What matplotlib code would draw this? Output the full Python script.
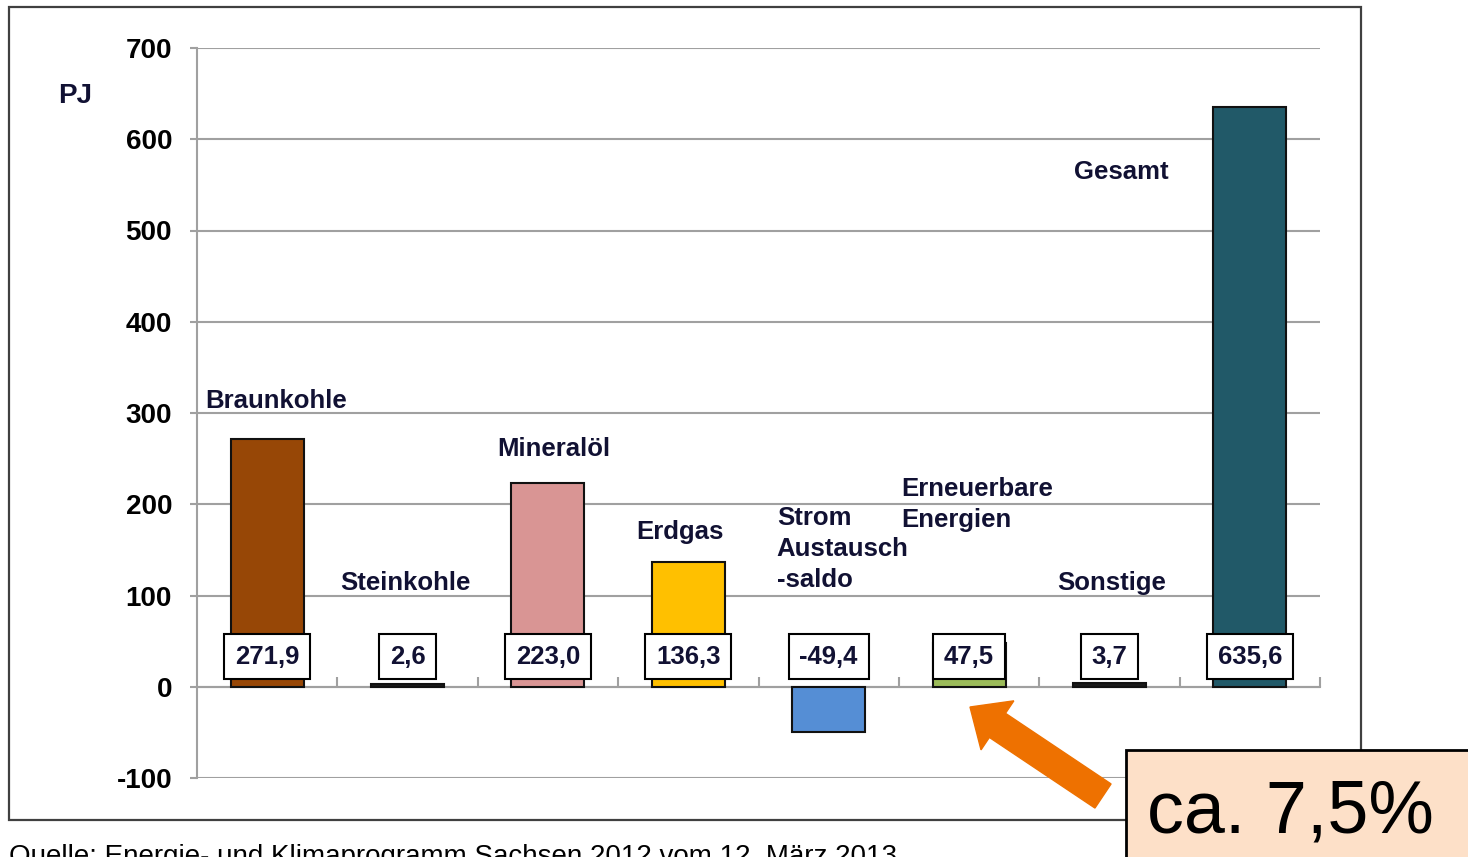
import matplotlib
matplotlib.use("Agg")
import matplotlib.pyplot as plt
from matplotlib.patches import Rectangle, FancyArrow

# Primärenergieverbrauch Sachsen nach Energieträgern (PJ)
categories = ["Braunkohle", "Steinkohle", "Mineralöl", "Erdgas",
              "Strom\nAustausch\n-saldo", "Erneuerbare\nEnergien",
              "Sonstige", "Gesamt"]
values = [271.9, 2.6, 223.0, 136.3, -49.4, 47.5, 3.7, 635.6]
value_labels = ["271,9", "2,6", "223,0", "136,3", "-49,4", "47,5", "3,7", "635,6"]
bar_colors = ["#974706", "#1a1a1a", "#D99594", "#FFC000",
              "#558ED5", "#9BBB59", "#1a1a1a", "#215968"]
yticks = [-100, 0, 100, 200, 300, 400, 500, 600, 700]

# label anchor (left x, centre y) in data units
label_x = [-0.44, 0.52, 1.64, 2.63, 3.63, 4.52, 5.63, 5.75]
label_y = [313, 114, 261, 170, 151, 200, 114, 564]

FONT = "Liberation Sans"
GRID = "#A0A0A0"

fig = plt.figure(figsize=(14.68, 8.57), dpi=100)
ax = fig.add_axes([197 / 1468, 1 - 778 / 857, 1123 / 1468, 730 / 857])

x = range(len(values))
ax.bar(x, values, width=0.52, color=bar_colors, edgecolor="#111111",
       linewidth=1.5, zorder=3)

ax.set_xlim(-0.5, 7.5)
ax.set_ylim(-100, 700)
ax.set_yticks(yticks)
ax.set_yticklabels([str(v) for v in yticks], fontfamily=FONT,
                   fontweight="bold", fontsize=20)
ax.yaxis.grid(True, color=GRID, linewidth=1.5, zorder=0)
ax.set_axisbelow(True)
ax.tick_params(axis="y", direction="out", length=5, width=1.5,
               color=GRID, pad=13)

ax.set_xticks([i + 0.5 for i in range(len(values))])
ax.set_xticklabels([])
ax.tick_params(axis="x", direction="in", length=7, width=1.5, color=GRID)
ax.spines["bottom"].set_position(("data", 0))
for s in ["top", "right"]:
    ax.spines[s].set_visible(False)
for s in ["left", "bottom"]:
    ax.spines[s].set_color(GRID)
    ax.spines[s].set_linewidth(1.5)

# value boxes
for i, lab in enumerate(value_labels):
    ax.text(i, 33, lab, ha="center", va="center", fontfamily=FONT,
            fontweight="bold", fontsize=18.5, color="#111133", zorder=5,
            bbox=dict(boxstyle="square,pad=0.42", facecolor="white",
                      edgecolor="black", linewidth=1.5))

# category labels
for i, cat in enumerate(categories):
    ax.text(label_x[i], label_y[i], cat, ha="left", va="center",
            fontfamily=FONT, fontweight="bold", fontsize=18.5, color="#111133",
            linespacing=1.35, zorder=4)

fig.text(58 / 1468, 1 - 96 / 857, "PJ", ha="left", va="center",
         fontfamily=FONT, fontweight="bold", fontsize=20, color="#111133")

# outer frame
fig.add_artist(Rectangle((9 / 1468, 1 - 820 / 857), 1352 / 1468, 813 / 857,
                         transform=fig.transFigure, fill=False,
                         edgecolor="#404040", linewidth=1.6, zorder=1))

fig.text(9 / 1468, 1 - 864 / 857,
         "Quelle: Energie- und Klimaprogramm Sachsen 2012 vom 12. März 2013",
         ha="left", va="baseline", fontfamily=FONT, fontsize=20)

# highlight arrow and annotation box
fig.add_artist(FancyArrow(11.03, 0.61, -1.33, 0.89, width=0.29,
                          head_width=0.59, head_length=0.33,
                          length_includes_head=True, color="#EE7100",
                          transform=fig.dpi_scale_trans, zorder=6))
fig.add_artist(Rectangle((1126 / 1468, -0.05), 0.3, 1 - 750 / 857 + 0.05,
                         transform=fig.transFigure, facecolor="#FDE0C8",
                         edgecolor="black", linewidth=2, zorder=7))
fig.text(1147 / 1468, 1 - 833 / 857, "ca. 7,5%", ha="left", va="baseline",
         fontfamily=FONT, fontsize=53, zorder=8)

fig.savefig("out.png", dpi=100)
